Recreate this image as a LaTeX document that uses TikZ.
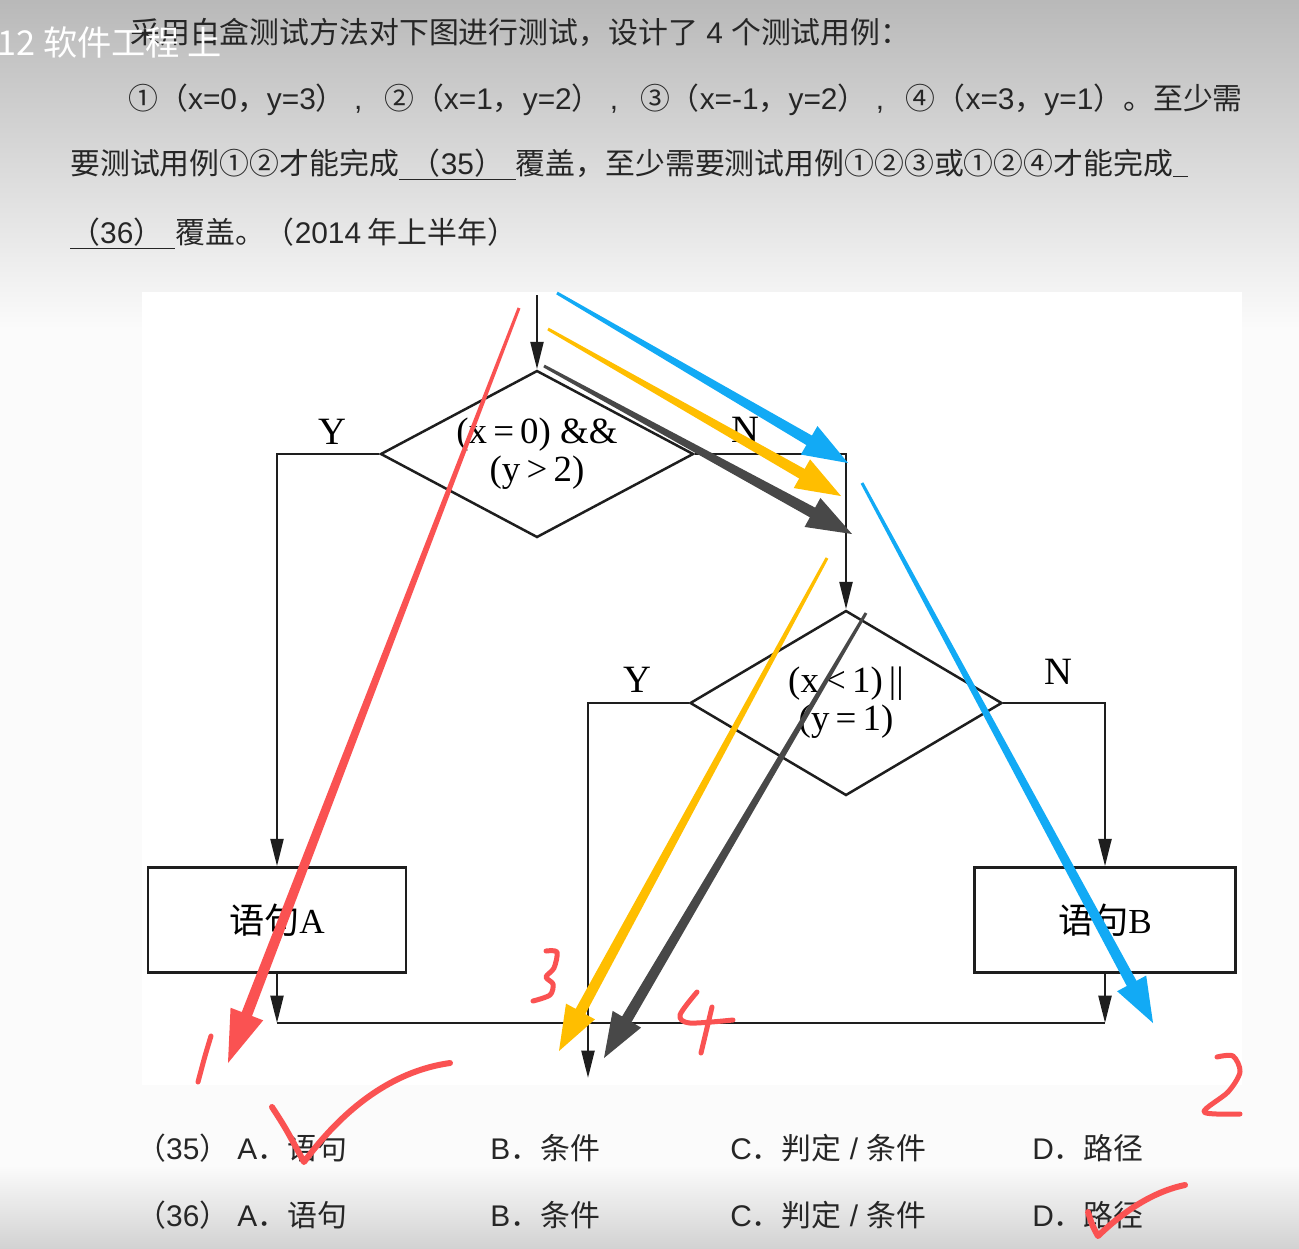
\documentclass[tikz,border=0pt]{standalone}
\usepackage{fontspec}
\setmainfont{Liberation Serif}
\newfontfamily\cjk{Noto Sans CJK SC}
\newfontfamily\lat{Liberation Sans}
\usetikzlibrary{shapes.geometric,arrows.meta,calc,positioning}
\definecolor{penred}{RGB}{250,82,82}
\definecolor{penyellow}{RGB}{255,190,0}
\definecolor{penblue}{RGB}{18,170,245}
\definecolor{pendark}{RGB}{72,72,72}
\definecolor{inkgray}{RGB}{30,30,30}

% marker arrow: colour, from, to, head length, head half width
\newcommand{\penarrow}[5]{%
  \coordinate (hb) at ($(#3)!#4!(#2)$);
  \fill[#1] ($(#2)!0.3mm!90:(#3)$) -- ($(hb)!1.1mm!90:(#3)$) -- ($(hb)!#5!90:(#3)$) -- (#3)
    -- ($(hb)!#5!-90:(#3)$) -- ($(hb)!1.1mm!-90:(#3)$) -- ($(#2)!0.3mm!-90:(#3)$) -- cycle;
}

\begin{document}
\begin{tikzpicture}[x=0.2mm, y=-0.2mm,
                    qtext/.style={anchor=base west, inner sep=0pt,
                    font=\cjk\fontsize{17}{20}\selectfont, text=black!85},
                    decrect/.style={diamond, draw=inkgray, line width=0.5mm,
                    align=center, inner sep=0pt, font=\fontsize{21}{21.6}\selectfont},
                    stmtrect/.style={rectangle, draw=inkgray, line width=0.5mm,
                    minimum width=51.6mm, minimum height=21mm, font=\fontsize{20}{24}\selectfont},
                    flowline/.style={draw=inkgray, line width=0.5mm},
                    flowarr/.style={flowline, -{Triangle[length=5.5mm,width=2.6mm]}},
                    yn/.style={inner sep=0pt, font=\fontsize{22}{24}\selectfont},
                    pen/.style={draw=penred, line width=1mm, line cap=round, line join=round}]

                    \useasboundingbox (0,0) rectangle (1299,1248);
                    % screenshot background
                    \fill[gray!3] (0,0) rectangle (1299,1248);
                    \shade[top color=gray!55, bottom color=gray!3] (0,0) rectangle (1299,330);
                    \shade[top color=gray!3, bottom color=gray!35] (0,1165) rectangle (1299,1248);
                    \fill[white] (142,292) rectangle (1242,1085);

                    % question
                    \node[qtext] (q1) at (130,43) {采用白盒测试方法对下图进行测试，设计了{\lat\ 4\ }个测试用例：};
                    \node[qtext] (q2) at (128,109) {①（{\lat x=0}，{\lat y=3}）{\lat\ ,\ }\hspace{0.45em}②（{\lat x=1}，{\lat y=2}）{\lat\ ,\ }\hspace{0.45em}③（{\lat x=-1}，{\lat y=2}）{\lat\ ,\ }\hspace{0.45em}④（{\lat x=3}，{\lat y=1}）。至少需};
                    \node[qtext] (q3) at (70,174) {要测试用例①②才能完成\underline{\hspace{0.4em}（{\lat 35}）\hspace{0.4em}}覆盖，至少需要测试用例①②③或①②④才能完成\underline{\hspace{0.5em}}};
                    \node[qtext] (q4) at (70,243) {\underline{（{\lat 36}）\hspace{0.4em}}覆盖。（{\lat 2014} 年上半年）};
                    \node[anchor=base west, inner sep=0pt, text=white,
                          font=\cjk\fontsize{19.5}{22}\selectfont] (title) at (-3,55) {12 软件工程 上};

                    % flow graph
                    \coordinate (entry) at (537,295);
                    \node[decrect, aspect=1.87, minimum width=62.6mm, minimum height=33.4mm] (d1) at (537,454)
                         {(x\,=\,0) \&\&\\(y\,>\,2)};
                    \node[decrect, aspect=1.69, minimum width=62.4mm, minimum height=37mm] (d2) at (846,703)
                         {(x\,<\,1)\,||\\(y\,=\,1)};
                    \node[stmtrect] (stmta) at (277,920) {{\cjk 语句}A};
                    \node[stmtrect, minimum width=52.2mm] (stmtb) at (1105,920) {{\cjk 语句}B};
                    \coordinate (joina) at (277,1023);
                    \coordinate (joinb) at (1105,1023);
                    \coordinate (exit) at (588,1078);

                    \draw[flowarr] (entry) -- (d1.north);
                    \draw[flowarr] (d1.west) -| (stmta.north);
                    \draw[flowarr] (d1.east) -| (d2.north);
                    \draw[flowarr] (d2.west) -| (exit);
                    \draw[flowarr] (d2.east) -| (stmtb.north);
                    \draw[flowarr] (stmta.south) -- (joina);
                    \draw[flowarr] (stmtb.south) -- (joinb);
                    \draw[flowline] (joina) -- (joinb);

                    \node[yn] (y1) at (332,432) {Y};
                    \node[yn] (n1) at (745,430) {N};
                    \node[yn] (y2) at (637,680) {Y};
                    \node[yn] (n2) at (1058,672) {N};

                    % answers
                    \node[qtext] (o35n) at (136,1159) {（{\lat 35}）};
                    \node[qtext] (o35a) at (237,1159) {{\lat A}．语句};
                    \node[qtext] (o35b) at (490,1159) {{\lat B}．条件};
                    \node[qtext] (o35c) at (730,1159) {{\lat C}．判定{\lat\ /\ }条件};
                    \node[qtext] (o35d) at (1032,1159) {{\lat D}．路径};
                    \node[qtext] (o36n) at (136,1226) {（{\lat 36}）};
                    \node[qtext] (o36a) at (237,1226) {{\lat A}．语句};
                    \node[qtext] (o36b) at (490,1226) {{\lat B}．条件};
                    \node[qtext] (o36c) at (730,1226) {{\lat C}．判定{\lat\ /\ }条件};
                    \node[qtext] (o36d) at (1032,1226) {{\lat D}．路径};

                    % marker arrows
                    \coordinate (reds) at (519,308);   \coordinate (redt) at (228,1063);
                    \coordinate (blues) at (557,293);  \coordinate (bluet) at (848,463);
                    \coordinate (yels) at (548,329);   \coordinate (yelt) at (841,496);
                    \coordinate (darks) at (544,366);  \coordinate (darkt) at (852,534);
                    \coordinate (bluess) at (862,483); \coordinate (bluett) at (1153,1023);
                    \coordinate (yelss) at (827,558);  \coordinate (yeltt) at (559,1051);
                    \coordinate (darkss) at (866,613); \coordinate (darktt) at (604,1058);
                    \penarrow{penred}{reds}{redt}{10.5mm}{3.5mm}
                    \penarrow{penblue}{blues}{bluet}{9mm}{3.3mm}
                    \penarrow{penyellow}{yels}{yelt}{9mm}{3.3mm}
                    \penarrow{pendark}{darks}{darkt}{9mm}{3.3mm}
                    \penarrow{penblue}{bluess}{bluett}{9mm}{3.3mm}
                    \penarrow{penyellow}{yelss}{yeltt}{9mm}{3.3mm}
                    \penarrow{pendark}{darkss}{darktt}{9mm}{3.3mm}

                    % handwriting
                    \draw[pen] plot[smooth] coordinates {(211,1036) (205,1056) (198,1082)};
                    \draw[pen] plot[smooth] coordinates {(546,951) (557,952) (554,968) (546,977) (553,984) (550,995) (533,1001)};
                    \draw[pen] plot[smooth] coordinates {(697,992) (680,1015) (690,1023) (733,1020)};
                    \draw[pen] (712,1007) -- (701,1053);
                    \draw[pen] plot[smooth] coordinates {(1217,1057) (1233,1056) (1240,1072) (1228,1092) (1204,1112) (1240,1114)};
                    \draw[pen, line width=1.2mm] (272,1107) .. controls (285,1127) .. (304,1162)
                          .. controls (350,1100) and (400,1070) .. (450,1063);
                    \draw[pen, line width=1.2mm] (1088,1212) .. controls (1092,1225) .. (1098,1236)
                          .. controls (1130,1205) and (1160,1190) .. (1185,1185);
                    \end{tikzpicture}
\end{document}
